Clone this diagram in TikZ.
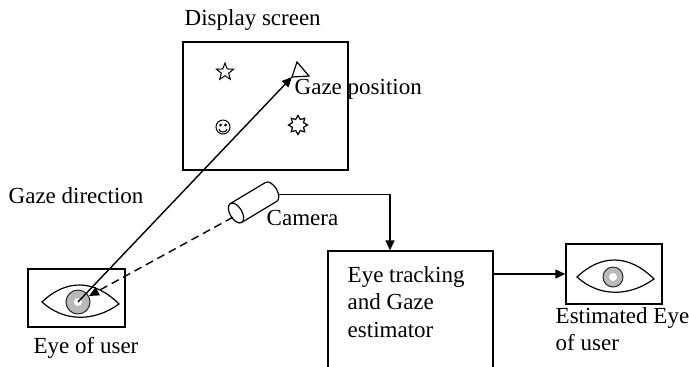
\documentclass[tikz,border=0pt]{standalone}
\usepackage{fontspec}
\setmainfont{Liberation Serif}
\usetikzlibrary{arrows.meta}
\begin{document}
\begin{tikzpicture}[x=0.5pt,y=-0.5pt,font=\fontsize{11.5}{13.75}\selectfont,line width=0.7pt,
	box/.style={draw,inner sep=0pt},
	txt/.style={inner sep=0pt,anchor=west},
	arr/.style={-{Triangle[length=5pt,width=4.5pt]}},
	iris/.style={circle,fill=gray!55,draw=gray!30!black,line width=0.5pt,inner sep=0pt}]
	\useasboundingbox (0,0) rectangle (689,366);
	\node[box,minimum width=82.5pt,minimum height=64pt] (screen) at (265.5,106) {};
	\node[box,minimum width=48.5pt,minimum height=29pt] (eyeU) at (76.5,298) {};
	\node[box,minimum width=48pt,minimum height=30pt] (eyeE) at (614,274) {};
	\node[box,minimum width=82.5pt,minimum height=64.5pt] (track) at (410.5,315.5) {};
	\path (78,302) coordinate (pU) (613,277) coordinate (pE) (292,77) coordinate (tri);
	% eyes
	\foreach \p in {pU,pE}
	\draw[line width=0.6pt,shift={(\p)}] (-36,0) .. controls (-12,-23) and (16,-23) .. (41,2) .. controls (16,20) and (-14,20) .. cycle;
	\node[iris,minimum size=12pt] (irisU) at (pU) {};
	\node[iris,minimum size=10pt] (irisE) at (pE) {};
	\foreach \p in {pU,pE}
	\fill (\p) circle (4) [white] (\p) circle (1.8);
	% screen symbols
	\draw[line width=0.5pt,shift={(225,72)}] (-90:9) \foreach \k in {1,...,9} {-- (-90+\k*36:{ifthenelse(mod(\k,2)==0,9,3.8)})} -- cycle;
	\draw[line width=0.6pt,shift={(298,125)}] (0:9.5) \foreach \k in {1,...,15} {-- (\k*22.5:{ifthenelse(mod(\k,2)==0,9.5,6)})} -- cycle;
	\draw[line width=0.5pt,shift={(223,127)}] (0,0) circle (7) (-2.5,-2) circle (0.8) (2.5,-2) circle (0.8) (-4,2) arc (180:0:4 and 3);
	\draw[line width=0.6pt] (tri) -- (297,62) -- (309,76) -- cycle;
	% camera
	\begin{scope}[shift={(236,213)},rotate=31,line width=0.6pt]
		\draw (0,0) ellipse (6 and 11) (0,-11) -- (41,-11) arc[start angle=-90,end angle=90,x radius=6,y radius=11] -- (0,11);
		\path (-5,2) coordinate (camIn) (46,6) coordinate (camOut);
	\end{scope}
	\draw[arr] (irisU.center) -- (tri);
	\draw[arr,dashed,dash pattern=on 4pt off 2.5pt] (camIn) -- (irisU);
	\draw[arr] (camOut) -| ([xshift=-10.25pt]track.north);
	\draw[arr] (eyeE.west -| track.east) -- (eyeE.west);
	% labels
	\node[txt] (screenLbl) at (184,20) {Display screen};
	\node[txt] (gazePos) at (294,89) {Gaze position};
	\node[txt] (gazeDir) at (8,196) {Gaze direction};
	\node[txt] (camLbl) at (266,218) {Camera};
	\node[inner sep=0pt] (userLbl) at (86,348) {Eye of user};
	\node[txt,align=left] (trackLbl) at (347,302) {Eye tracking\\and Gaze\\estimator};
	\node[txt,align=left] (estLbl) at (555,329) {Estimated Eye\\of user};
\end{tikzpicture}
\end{document}
